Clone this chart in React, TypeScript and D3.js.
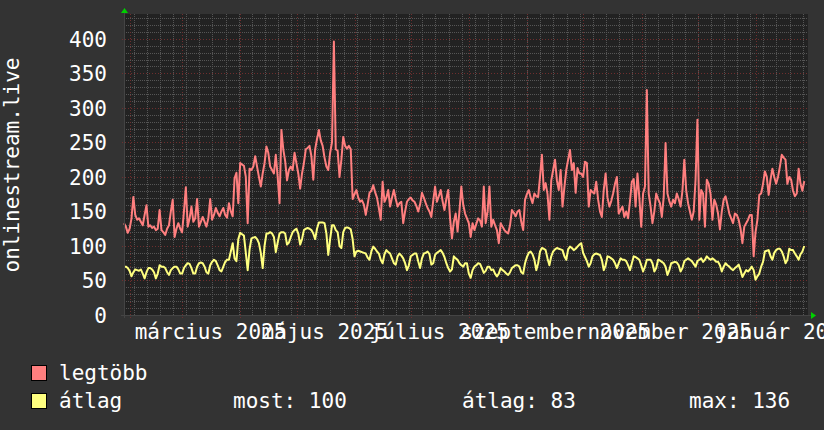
import React from "react";
import * as d3 from "d3";

// ---- data (daily values, first day = 2025-01-28) ----
const startDate = new Date(2025, 0, 28, 20);
const endDate = new Date(2026, 0, 28, 20);

const maxSeries = [
  133, 128, 119, 125, 140, 171, 145, 138, 140, 135,
  130, 145, 159, 128, 130, 126, 128, 123, 125, 152,
  123, 120, 116, 125, 130, 150, 167, 113, 125, 133,
  125, 120, 150, 185, 128, 140, 157, 135, 140, 168,
  128, 135, 142, 135, 128, 140, 168, 138, 145, 155,
  148, 143, 150, 155, 145, 141, 162, 150, 143, 198,
  206, 162, 220, 218, 216, 200, 133, 212, 210, 215,
  230, 215, 200, 186, 205, 220, 244, 235, 215, 210,
  205, 232, 200, 162, 268, 240, 223, 195, 210, 215,
  210, 235, 220, 205, 183, 205, 220, 240, 242, 245,
  230, 196, 240, 255, 268, 253, 245, 228, 215, 210,
  235, 250, 396, 240, 238, 200, 225, 258, 245, 241,
  245, 240, 168, 175, 181, 170, 164, 166, 160, 145,
  160, 177, 180, 188, 178, 170, 155, 138, 193, 164,
  170, 181, 157, 170, 181, 168, 157, 162, 164, 133,
  150, 164, 168, 170, 166, 164, 158, 150, 160, 177,
  170, 162, 155, 150, 142, 165, 186, 164, 172, 181,
  165, 152, 168, 181, 140, 111, 135, 147, 121, 150,
  186, 160, 147, 140, 133, 113, 133, 123, 132, 140,
  137, 128, 186, 133, 150, 186, 128, 138, 130, 123,
  104, 133, 128, 123, 120, 118, 130, 152, 148, 143,
  150, 152, 135, 123, 167, 175, 181, 170, 162, 176,
  172, 171, 200, 232, 181, 191, 175, 138, 195, 210,
  225, 195, 181, 210, 157, 185, 210, 225, 239, 210,
  220, 177, 213, 205, 205, 200, 222, 220, 157, 181,
  178, 176, 193, 167, 150, 142, 181, 205, 170, 157,
  165, 176, 190, 200, 147, 152, 157, 142, 150, 140,
  165, 193, 197, 157, 205, 170, 128, 176, 186, 326,
  176, 157, 133, 150, 176, 168, 162, 142, 171, 249,
  176, 165, 157, 167, 162, 176, 168, 157, 180, 225,
  181, 162, 150, 138, 150, 196, 283, 138, 181, 176,
  128, 196, 190, 175, 138, 167, 160, 147, 124, 150,
  167, 172, 160, 147, 140, 133, 147, 145, 138, 125,
  104, 128, 133, 138, 145, 145, 85, 120, 138, 174,
  176, 190, 208, 200, 174, 196, 212, 200, 190, 200,
  215, 232, 228, 225, 190, 200, 196, 180, 172, 176,
  212, 190, 180, 194,
];

const avgSeries = [
  70, 70, 68, 64, 56, 62, 66,
  65, 64, 66, 60, 53, 62, 68,
  68, 66, 62, 53, 60, 72, 70,
  70, 68, 62, 58, 65, 68, 70,
  70, 66, 60, 60, 68, 72, 75,
  74, 68, 60, 60, 70, 75, 76,
  75, 70, 62, 60, 72, 77, 80,
  78, 72, 65, 63, 70, 77, 80,
  80, 92, 104, 82, 78, 110, 119,
  117, 115, 90, 65, 95, 111, 112,
  113, 110, 104, 90, 68, 100, 118,
  118, 120, 118, 113, 91, 105, 118,
  120, 120, 118, 102, 105, 113, 120,
  123, 125, 118, 102, 110, 123, 125,
  126, 125, 123, 118, 110, 125, 134,
  134, 134, 133, 118, 87, 110, 130,
  130, 123, 120, 100, 97, 120, 126,
  127, 126, 124, 110, 85, 92, 93,
  92, 91, 90, 89, 83, 80, 92,
  99, 96, 92, 89, 80, 75, 88,
  94, 91, 89, 82, 75, 73, 85,
  89, 86, 82, 75, 65, 72, 85,
  87, 89, 89, 78, 68, 82, 89,
  90, 92, 88, 73, 75, 87, 90,
  92, 94, 90, 84, 75, 68, 63,
  66, 85, 82, 80, 75, 72, 70,
  75, 75, 60, 54, 65, 70, 72,
  75, 74, 68, 61, 64, 70, 70,
  65, 66, 60, 56, 60, 68, 65,
  63, 60, 58, 62, 68, 70, 72,
  72, 70, 62, 60, 75, 84, 90,
  92, 88, 80, 65, 75, 92, 97,
  96, 94, 82, 72, 85, 92, 95,
  97, 96, 95, 94, 85, 80, 95,
  99, 97, 94, 96, 99, 102, 104,
  90, 84, 78, 70, 75, 85, 88,
  89, 88, 87, 80, 65, 72, 85,
  84, 82, 80, 75, 68, 75, 82,
  80, 80, 78, 72, 65, 75, 85,
  84, 82, 80, 72, 63, 70, 80,
  80, 80, 75, 63, 68, 80, 79,
  77, 75, 70, 58, 65, 75, 76,
  77, 76, 72, 63, 68, 78, 80,
  82, 80, 78, 74, 70, 78, 80,
  82, 77, 80, 85, 82, 80, 82,
  80, 77, 77, 72, 63, 70, 75,
  72, 70, 67, 65, 68, 70, 73,
  65, 55, 60, 65, 63, 66, 70,
  65, 51, 56, 60, 70, 77, 92,
  93, 94, 85, 80, 90, 94, 96,
  96, 92, 85, 75, 80, 96, 94,
  94, 89, 85, 80, 88, 92, 100,
];

const yTicks = [0, 50, 100, 150, 200, 250, 300, 350, 400];
const monthLabelMonths = [
  new Date(2025, 2, 1),
  new Date(2025, 4, 1),
  new Date(2025, 6, 1),
  new Date(2025, 8, 1),
  new Date(2025, 10, 1),
  new Date(2026, 0, 1),
];
const monthNames = [
  "január", "február", "március", "április", "május", "június",
  "július", "augusztus", "szeptember", "október", "november", "december",
];
const yAxisTitle = "onlinestream.live";
const legendNames = ["legtöbb", "átlag"];
const legendStats = ["most: 100", "átlag: 83", "max: 136"];

// ---- layout ----
const W = 824;
const H = 430;
const PL = 124;
const PR = 808;
const PT = 14;
const PB = 315;
const FONT = "'DejaVu Sans Mono', monospace";
const FS = 21;

const RED = "#ff7f7f";
const YELLOW = "#ffff7f";

export default function App() {
  const x = d3.scaleTime().domain([startDate, endDate]).range([PL, PR]);
  const y = d3.scaleLinear().domain([0, 436]).range([PB, PT]);

  const dates = maxSeries.map((_, i) => d3.timeDay.offset(startDate, i));

  const line = d3
    .line<number>()
    .x((_, i) => x(dates[i]))
    .y((v) => y(v))
    .curve(d3.curveLinear);

  const weeks = d3.timeMonday.range(startDate, endDate);
  const months = d3.timeMonth.range(startDate, endDate);
  const minorY = d3.range(0, 436, 10).filter((v) => v % 50 !== 0);
  const majorY = d3.range(0, 436, 50);

  const px = (v: number) => Math.round(v) + 0.5;

  return (
    <svg
      width={W}
      height={H}
      style={{ position: "absolute", left: 0, top: 0, display: "block" }}
      fontFamily={FONT}
    >
      <rect x={0} y={0} width={W} height={H} fill="#333333" />
      <rect x={PL} y={PT} width={PR - PL} height={PB - PT} fill="#222222" />

      {/* minor grid */}
      <g stroke="#555555" strokeWidth={1} strokeDasharray="1,1" shapeRendering="crispEdges">
        {weeks.map((d, i) => (
          <line key={"w" + i} x1={px(x(d))} x2={px(x(d))} y1={PT} y2={PB} />
        ))}
        {minorY.map((v) => (
          <line key={"hy" + v} x1={PL} x2={PR} y1={px(y(v))} y2={px(y(v))} />
        ))}
      </g>
      {/* major grid */}
      <g stroke="#6e2e2e" strokeWidth={1} strokeDasharray="1,2" shapeRendering="crispEdges">
        {months.map((d, i) => (
          <line key={"m" + i} x1={px(x(d))} x2={px(x(d))} y1={PT} y2={PB + 3} />
        ))}
        {majorY.map((v) => (
          <line key={"My" + v} x1={PL - 2} x2={PR} y1={px(y(v))} y2={px(y(v))} />
        ))}
      </g>

      {/* data lines */}
      <path d={line(maxSeries) || ""} fill="none" stroke={RED} strokeWidth={2} strokeLinejoin="round" />
      <path d={line(avgSeries) || ""} fill="none" stroke={YELLOW} strokeWidth={2} strokeLinejoin="round" />

      {/* axes */}
      <g stroke="#444444" strokeWidth={1} shapeRendering="crispEdges">
        <line x1={PL - 3} x2={PR + 4} y1={PB + 0.5} y2={PB + 0.5} />
        <line x1={PL + 0.5} x2={PL + 0.5} y1={PT - 4} y2={PB + 3} />
      </g>
      <polygon points={`${PL - 3},${PT - 1} ${PL + 4},${PT - 1} ${PL + 0.5},${PT - 6}`} fill="#00d000" />
      <polygon points={`${PR + 3},${PB - 3} ${PR + 3},${PB + 4} ${PR + 8},${PB + 0.5}`} fill="#00d000" />

      {/* y tick labels */}
      <g fill="#ffffff" fontSize={FS} textAnchor="end">
        {yTicks.map((v) => (
          <text key={"yt" + v} x={107} y={y(v) + 8}>
            {v}
          </text>
        ))}
      </g>

      {/* x labels: centered 15 days after month start */}
      <g fill="#ffffff" fontSize={FS} textAnchor="middle">
        {monthLabelMonths.map((m, i) => (
          <text key={"xl" + i} x={x(d3.timeDay.offset(m, 15))} y={339}>
            {monthNames[m.getMonth()] + " " + m.getFullYear()}
          </text>
        ))}
      </g>

      {/* y axis title */}
      <text
        transform={`translate(19, 165) rotate(-90)`}
        fill="#ffffff"
        fontSize={FS}
        textAnchor="middle"
      >
        {yAxisTitle}
      </text>

      {/* legend */}
      <rect x={31.5} y={365.5} width={15} height={15} fill={RED} stroke="#000" strokeWidth={1} />
      <rect x={31.5} y={393.5} width={15} height={15} fill={YELLOW} stroke="#000" strokeWidth={1} />
      <g fill="#ffffff" fontSize={FS}>
        <text x={59} y={380}>{legendNames[0]}</text>
        <text x={59} y={408}>{legendNames[1]}</text>
        <text x={233} y={408}>{legendStats[0]}</text>
        <text x={462} y={408}>{legendStats[1]}</text>
        <text x={689} y={408}>{legendStats[2]}</text>
      </g>
    </svg>
  );
}
